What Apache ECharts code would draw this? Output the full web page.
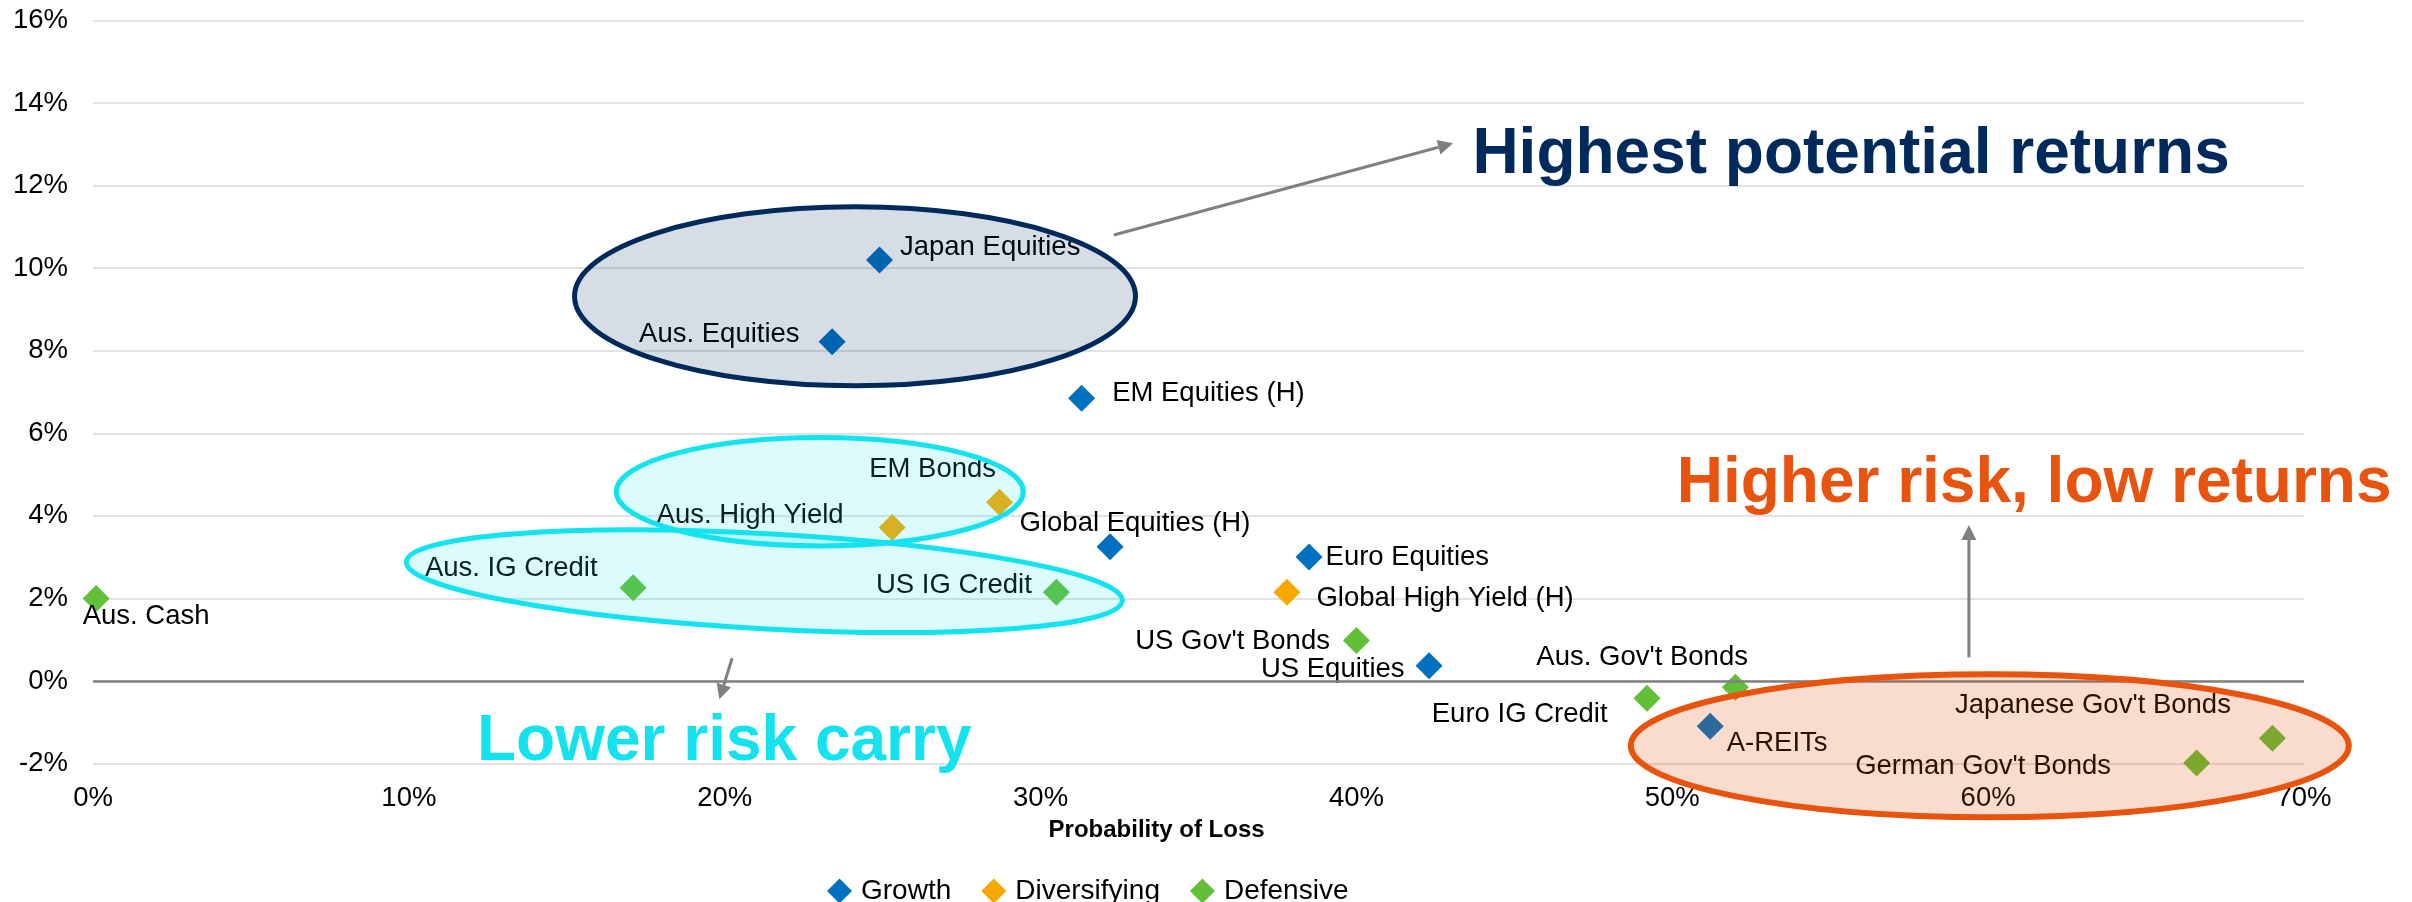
<!DOCTYPE html>
<html>
<head>
<meta charset="utf-8">
<script src="https://cdn.jsdelivr.net/npm/echarts@6/dist/echarts.min.js"></script>
<style>
html,body{margin:0;padding:0;background:#fff;}
#chart{width:2412px;height:902px;}
</style>
</head>
<body>
<div id="chart"></div>
<script>
// ---- Data (probability of loss %, expected return %) ----
const growthNames  = ['Japan Equities','Aus. Equities','EM Equities (H)','Global Equities (H)','Euro Equities','US Equities','A-REITs'];
const growthLoss   = [24.9, 23.4, 31.3, 32.2, 38.5, 42.3, 51.2];
const growthReturn = [10.2, 8.22, 6.85, 3.25, 3.0, 0.37, -1.1];

const divNames  = ['EM Bonds','Aus. High Yield','Global High Yield (H)'];
const divLoss   = [28.7, 25.3, 37.8];
const divReturn = [4.33, 3.72, 2.15];

const defNames  = ['Aus. Cash','Aus. IG Credit','US IG Credit',"US Gov't Bonds",'Euro IG Credit',"Aus. Gov't Bonds","Japanese Gov't Bonds","German Gov't Bonds"];
const defLoss   = [0.1, 17.1, 30.5, 40.0, 49.2, 52.0, 69.0, 66.6];
const defReturn = [2.0, 2.26, 2.15, 0.98, -0.42, -0.15, -1.39, -1.99];

const seriesNames = ['Growth','Diversifying','Defensive'];
const xAxisTitle = 'Probability of Loss';
const calloutTexts = ['Highest potential returns','Higher risk, low returns','Lower risk carry'];

// ---- Layout / style (not data) ----
const FONT = "'Liberation Sans', Arial, sans-serif";
const colors = {Growth:'#0070C0', Diversifying:'#F7A800', Defensive:'#62BF38'};
const labelPlace = {
  'Japan Equities': ['right', 7, -12],
  'Aus. Equities': ['left', -19, -7],
  'EM Equities (H)': ['right', 17, -5],
  'Aus. Cash': ['right', -27, 18],
  'Aus. IG Credit': ['left', -22, -19],
  'EM Bonds': ['left', 10, -33],
  'Aus. High Yield': ['left', -35, -12],
  'Global Equities (H)': ['right', -104, -23],
  'Euro Equities': ['right', 3, 0],
  'US IG Credit': ['left', -11, -7],
  'Global High Yield (H)': ['right', 16, 6],
  "US Gov't Bonds": ['left', -13, 1],
  'US Equities': ['left', -11, 4],
  'Euro IG Credit': ['left', -26, 16],
  "Aus. Gov't Bonds": ['left', 26, -30],
  'A-REITs': ['right', 3, 17],
  "Japanese Gov't Bonds": ['left', -28, -33],
  "German Gov't Bonds": ['left', -72, 3]
};

function build(names, xs, ys) {
  return names.map((n, i) => {
    const p = labelPlace[n] || ['right', 0, 0];
    return {
      name: n,
      value: [xs[i], ys[i]],
      label: {position: p[0], offset: [p[1], p[2]], distance: 0}
    };
  });
}

function arrow(x1, y1, x2, y2) {
  const headL = 15, headW = 7.5;
  const dx = x2 - x1, dy = y2 - y1, L = Math.sqrt(dx*dx + dy*dy);
  const ux = dx / L, uy = dy / L;
  const bx = x2 - ux*headL, by = y2 - uy*headL;
  return [
    {type:'line', z:60, shape:{x1:x1, y1:y1, x2:bx, y2:by}, style:{stroke:'#808080', lineWidth:3}},
    {type:'polygon', z:60, shape:{points:[[x2,y2],[bx - uy*headW, by + ux*headW],[bx + uy*headW, by - ux*headW]]}, style:{fill:'#808080'}}
  ];
}

const chart = echarts.init(document.getElementById('chart'), null, {renderer:'canvas'});

const scatterCommon = {
  type: 'scatter',
  symbol: 'diamond',
  symbolSize: 27,
  clip: false,
  label: {
    show: true,
    formatter: '{b}',
    color: '#000',
    fontFamily: FONT,
    fontSize: 27.5
  },
  emphasis: {disabled: true}
};

const option = {
  animation: false,
  backgroundColor: '#fff',
  textStyle: {fontFamily: FONT},
  grid: {left: 93, right: 108, top: 20.5, bottom: 138.5, containLabel: false},
  legend: {
    data: seriesNames,
    left: 822,
    top: 872,
    icon: 'diamond',
    itemWidth: 25,
    itemHeight: 25,
    itemGap: 30,
    itemStyle: {opacity: 1},
    textStyle: {fontFamily: FONT, fontSize: 28, color: '#000', padding: [0, 0, 0, 4]}
  },
  xAxis: {
    type: 'value',
    min: 0, max: 70, interval: 10,
    axisLine: {show: false},
    axisTick: {show: false},
    splitLine: {show: false},
    axisLabel: {formatter: '{value}%', color: '#000', fontFamily: FONT, fontSize: 27.5, margin: 21}
  },
  yAxis: {
    type: 'value',
    min: -2, max: 16, interval: 2,
    axisLine: {show: false},
    axisTick: {show: false},
    splitLine: {show: true, lineStyle: {color: '#D9D9D9', width: 1.5}},
    axisLabel: {formatter: '{value}%', color: '#000', fontFamily: FONT, fontSize: 27.5, margin: 25}
  },
  series: [
    Object.assign({}, scatterCommon, {
      name: 'Growth', itemStyle: {color: colors.Growth, opacity: 1},
      data: build(growthNames, growthLoss, growthReturn),
      markLine: {
        silent: true, symbol: 'none', label: {show: false},
        lineStyle: {color: '#808080', width: 2.5, type: 'solid'},
        data: [{yAxis: 0}]
      }
    }),
    Object.assign({}, scatterCommon, {
      name: 'Diversifying', itemStyle: {color: colors.Diversifying, opacity: 1},
      data: build(divNames, divLoss, divReturn)
    }),
    Object.assign({}, scatterCommon, {
      name: 'Defensive', itemStyle: {color: colors.Defensive, opacity: 1},
      data: build(defNames, defLoss, defReturn)
    })
  ],
  graphic: [
    {type:'ellipse', z:50, x:855, y:296.3, shape:{cx:0, cy:0, rx:280.5, ry:89.5},
     style:{fill:'rgba(0,42,92,0.16)', stroke:'#002A5C', lineWidth:5}},
    {type:'ellipse', z:50, x:764.3, y:581.2, rotation:-0.054, shape:{cx:0, cy:0, rx:358.5, ry:47.5},
     style:{fill:'rgba(20,225,238,0.15)', stroke:'#13E3EF', lineWidth:5}},
    {type:'ellipse', z:50, x:819.8, y:491.7, shape:{cx:0, cy:0, rx:203.5, ry:54.2},
     style:{fill:'rgba(20,225,238,0.15)', stroke:'#13E3EF', lineWidth:5}},
    {type:'ellipse', z:50, x:1989.8, y:745.8, shape:{cx:0, cy:0, rx:359, ry:71.5},
     style:{fill:'rgba(232,80,10,0.2)', stroke:'#E8530E', lineWidth:6}},
    ...arrow(1113.8, 235, 1453, 143.3),
    ...arrow(732.1, 658.3, 719.4, 699.3),
    ...arrow(1968.9, 657.3, 1968.9, 525),
    {type:'text', z:60, x:1472.4, y:155.5,
     style:{text: calloutTexts[0], fill:'#002A5C', font:'bold 64px ' + FONT, textAlign:'left', textVerticalAlign:'middle'}},
    {type:'text', z:60, x:1676.7, y:484.5,
     style:{text: calloutTexts[1], fill:'#E8530E', font:'bold 64px ' + FONT, textAlign:'left', textVerticalAlign:'middle'}},
    {type:'text', z:60, x:477, y:742.7,
     style:{text: calloutTexts[2], fill:'#14E3EF', font:'bold 64px ' + FONT, textAlign:'left', textVerticalAlign:'middle'}},
    {type:'text', z:60, x:1156.6, y:830.8,
     style:{text: xAxisTitle, fill:'#000', font:'bold 24px ' + FONT, textAlign:'center', textVerticalAlign:'middle'}}
  ]
};

chart.setOption(option);
</script>
</body>
</html>
